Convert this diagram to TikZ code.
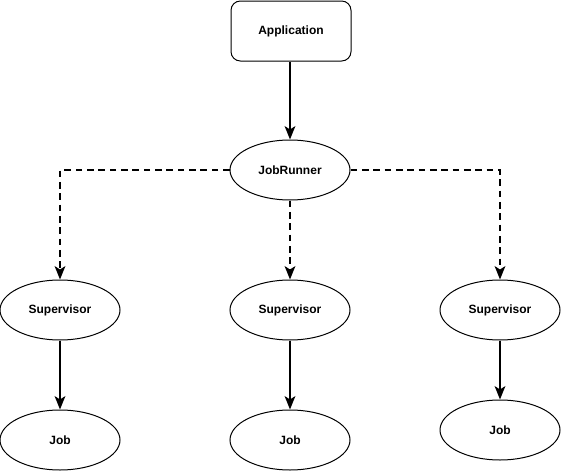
\documentclass[tikz,border=0pt]{standalone}
\usepackage{fontspec}
\setmainfont{Liberation Sans}
\usetikzlibrary{shapes.geometric,arrows.meta}
\tikzset{
  lbl/.style={font=\fontsize{9}{11}\selectfont\bfseries},
  boxnode/.style={lbl,draw,line width=0.75pt,rounded corners=7pt,minimum width=90pt,minimum height=45pt,inner sep=0pt},
  ellnode/.style={lbl,draw,ellipse,line width=0.75pt,minimum width=90pt,minimum height=45pt,inner sep=0pt},
  solidarrow/.style={line width=1.5pt,-{Stealth[length=10pt,width=8pt,inset=2.5pt]}},
  dasharrow/.style={solidarrow,dash pattern=on 5pt off 3.5pt}
}
\begin{document}
\begin{tikzpicture}[x=0.75pt,y=-0.75pt]
\useasboundingbox (0,0) rectangle (561,471);
\node[boxnode] (app) at (291,31) {Application};
\node[ellnode] (jr) at (290,170) {JobRunner};
\node[ellnode] (s1) at (60,310) {Supervisor};
\node[ellnode] (s2) at (290,310) {Supervisor};
\node[ellnode] (s3) at (500,310) {Supervisor};
\node[ellnode] (j1) at (60,440) {Job};
\node[ellnode] (j2) at (290,440) {Job};
\node[ellnode] (j3) at (500,430) {Job};
\draw[solidarrow] (app.south -| jr.north) -- (jr.north);
\draw[dasharrow] (jr.west) -| (s1.north);
\draw[dasharrow] (jr.south) -- (s2.north);
\draw[dasharrow] (jr.east) -| (s3.north);
\draw[solidarrow] (s1) -- (j1);
\draw[solidarrow] (s2) -- (j2);
\draw[solidarrow] (s3) -- (j3);
\end{tikzpicture}
\end{document}
